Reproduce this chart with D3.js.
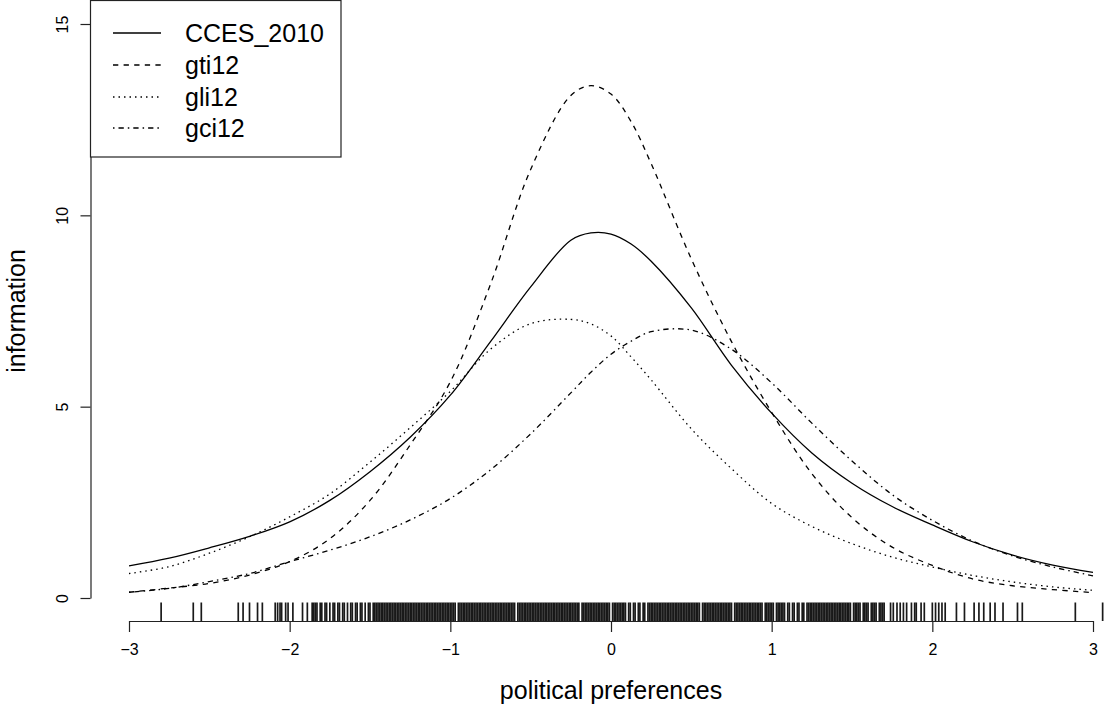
<!DOCTYPE html>
<meta charset="utf-8">
<style> /* set the CSS */

  body { margin: 0; background: white; }

  .curve {
    fill: none; stroke: #000; stroke-width: 1.3px;
  }

  .axisFormat line, .axisFormat path {
    stroke: #222; stroke-width: 1.2px;
  }

  .axisFormat text {
    font: 16px "Liberation Sans", Arial, sans-serif;
    fill: #000;
  }

  .rug {
    stroke: #000; stroke-width: 1.7px; stroke-opacity: 0.9;
  }

  .label {
    font: 25px "Liberation Sans", Arial, sans-serif;
    fill: #000;
  }

</style>
<body>

<!-- load the d3.js library -->
<script src="https://d3js.org/d3.v7.min.js"></script>
<script>

// theta grid the information curves were read at (finer round the peaks)
var theta = [-3, -2.75, -2.5, -2.25, -2, -1.75, -1.5, -1.25, -1, -0.75, -0.5, -0.25, -0.125,
             0, 0.125, 0.25, 0.5, 0.75, 1, 1.25, 1.5, 1.75, 2, 2.25, 2.5, 2.75, 3];

// information values for each scale
var cces2010 = [0.84, 1.04, 1.31, 1.61, 1.99, 2.55, 3.3, 4.2, 5.3, 6.7, 8.13, 9.35, 9.54,
                9.51, 9.25, 8.8, 7.58, 6.08, 4.83, 3.79, 3.0, 2.39, 1.91, 1.47, 1.12, 0.86, 0.67];
var gti12 = [0.15, 0.26, 0.38, 0.6, 0.95, 1.55, 2.55, 4.0, 5.65, 8.2, 11.2, 13.13, 13.39,
             13.17, 12.45, 11.35, 8.86, 6.7, 4.85, 3.25, 2.1, 1.33, 0.85, 0.5, 0.32, 0.22, 0.14];
var gli12 = [0.64, 0.82, 1.17, 1.6, 2.12, 2.72, 3.55, 4.45, 5.4, 6.5, 7.17, 7.28, 7.16,
             6.85, 6.3, 5.7, 4.42, 3.38, 2.47, 1.87, 1.42, 1.07, 0.81, 0.59, 0.42, 0.29, 0.2];
var gci12 = [0.15, 0.25, 0.43, 0.64, 0.95, 1.25, 1.6, 2.04, 2.6, 3.35, 4.29, 5.36, 5.9,
             6.37, 6.71, 6.96, 7.0, 6.5, 5.62, 4.57, 3.58, 2.7, 2.03, 1.49, 1.1, 0.81, 0.58];

var seriesNames = ["CCES_2010", "gti12", "gli12", "gci12"];
var seriesValues = [cces2010, gti12, gli12, gci12];
var seriesDash = [null, "5.3,5.3", "1.5,4", "1.5,4,5.3,4"];

var xTicks = [-3, -2, -1, 0, 1, 2, 3];
var yTicks = [0, 5, 10, 15];

// respondents' estimated positions (rug)
var rugValues = [
  -2.80, -2.60, -2.55, -2.32, -2.29, -2.25, -2.20, -2.17, -2.09, -2.075, -2.06, -2.05, -2.025, -2.01,
  -1.98, -1.92, -1.89, -1.86, -1.85, -1.84, -1.83, -1.81, -1.80, -1.78, -1.77, -1.75, -1.73, -1.72,
  -1.70, -1.69, -1.67, -1.66, -1.64, -1.62, -1.61, -1.59, -1.58, -1.56, -1.55, -1.53, -1.51, -1.50,
  -1.48, -1.47, -1.46, -1.45, -1.44, -1.43, -1.42, -1.41, -1.40,
  -1.39, -1.38, -1.37, -1.36, -1.35, -1.34, -1.33, -1.32, -1.31, -1.30, -1.29, -1.28, -1.27, -1.26,
  -1.25, -1.24, -1.23, -1.22, -1.21, -1.20, -1.19, -1.18, -1.17, -1.16, -1.15, -1.14, -1.13, -1.12,
  -1.11, -1.10, -1.09, -1.08, -1.07, -1.06, -1.05, -1.04, -1.03, -1.02, -1.01, -1.00, -0.99, -0.98,
  -0.97, -0.95, -0.94, -0.93, -0.92, -0.91, -0.90, -0.89, -0.88, -0.87, -0.86, -0.85, -0.84, -0.83,
  -0.82, -0.81, -0.80, -0.79, -0.78, -0.77, -0.76, -0.75, -0.74, -0.73, -0.72, -0.71, -0.70, -0.69,
  -0.68, -0.67, -0.66, -0.65, -0.64, -0.63, -0.62, -0.61, -0.60, -0.58, -0.57, -0.56, -0.55, -0.54,
  -0.53, -0.52, -0.51, -0.50, -0.49, -0.48, -0.47, -0.46, -0.45, -0.44, -0.43, -0.42, -0.41, -0.40,
  -0.39, -0.38, -0.37, -0.36, -0.35, -0.34, -0.33, -0.32, -0.31, -0.30, -0.29, -0.28, -0.27, -0.26,
  -0.25, -0.24, -0.23, -0.22, -0.21, -0.20, -0.18, -0.17, -0.16, -0.15, -0.14, -0.13, -0.12, -0.11,
  -0.10, -0.09, -0.08, -0.07, -0.06, -0.05, -0.04, -0.03, -0.02, -0.01,
  0.01, 0.02, 0.03, 0.04, 0.05, 0.06, 0.07, 0.08, 0.09, 0.11, 0.12, 0.14, 0.15, 0.17, 0.18, 0.20,
  0.21, 0.23, 0.24, 0.25, 0.26, 0.27, 0.28, 0.29, 0.30, 0.31, 0.32, 0.33, 0.34, 0.35, 0.36, 0.37,
  0.38, 0.39, 0.40, 0.41, 0.42, 0.43, 0.44, 0.45, 0.46, 0.47, 0.48, 0.49, 0.50, 0.51, 0.52, 0.53,
  0.54, 0.55, 0.57, 0.58, 0.59, 0.60, 0.61, 0.62, 0.63, 0.64, 0.65, 0.66, 0.67, 0.68, 0.69, 0.70,
  0.71, 0.72, 0.73, 0.74, 0.75, 0.77, 0.78, 0.79, 0.80, 0.81, 0.82, 0.83, 0.84, 0.85, 0.86, 0.87,
  0.88, 0.89, 0.90, 0.91, 0.92, 0.93, 0.94, 0.96, 0.97, 0.98, 0.99, 1.00, 1.01, 1.03, 1.04, 1.05,
  1.06, 1.07, 1.08, 1.10, 1.11, 1.13, 1.14, 1.16, 1.17, 1.19, 1.20, 1.22, 1.23, 1.24, 1.25, 1.26,
  1.27, 1.28, 1.29, 1.30, 1.31, 1.32, 1.33, 1.34, 1.35, 1.36, 1.37, 1.38, 1.39, 1.40, 1.41, 1.42,
  1.43, 1.44, 1.45, 1.46, 1.47, 1.48, 1.49, 1.51, 1.52, 1.53, 1.54, 1.55, 1.57, 1.58, 1.59, 1.60,
  1.62, 1.63, 1.64, 1.65, 1.67, 1.68, 1.69, 1.70,
  1.74, 1.757, 1.78, 1.80, 1.82, 1.84, 1.87, 1.89, 1.90, 1.93, 1.95, 2.00, 2.02, 2.04, 2.06, 2.08,
  2.15, 2.20, 2.26, 2.29, 2.32, 2.36, 2.39, 2.44, 2.53, 2.56, 2.89, 3.06
];

// set the dimensions of the drawing
var width = 1105, height = 709;
var plotLeft = 90.5, plotTop = 1, plotBottom = 621;

var svg = d3.select("body").append("svg")
    .attr("width", width)
    .attr("height", height);

// set the ranges
var x = d3.scaleLinear().domain([-3, 3]).range([129, 1093]);
var y = d3.scaleLinear().domain([0, 15]).range([598, 24]);

// define the line
var valueline = d3.line()
    .curve(d3.curveCatmullRom.alpha(0.5))
    .x(function(d) { return x(d[0]); })
    .y(function(d) { return y(d[1]); });

seriesValues.forEach(function(vals, i) {
  var pts = theta.map(function(t, j) { return [t, vals[j]]; });
  svg.append("path")
      .attr("class", "curve")
      .attr("d", valueline(pts))
      .style("stroke-dasharray", seriesDash[i]);
});

// rug along the bottom of the plot region
svg.append("g").selectAll("line")
    .data(rugValues)
    .enter().append("line")
    .attr("class", "rug")
    .attr("x1", function(d) { return x(d); })
    .attr("x2", function(d) { return x(d); })
    .attr("y1", plotBottom - 18.5)
    .attr("y2", plotBottom);

// x axis
svg.append("g")
    .attr("class", "axisFormat")
    .attr("transform", "translate(0," + plotBottom + ")")
    .call(d3.axisBottom(x).tickValues(xTicks).tickFormat(d3.format("d"))
      .tickSize(11).tickSizeOuter(0).tickPadding(23))
    .selectAll("text").attr("dy", 0);

// y axis, labels turned like R does
var yAxis = svg.append("g")
    .attr("class", "axisFormat")
    .attr("transform", "translate(" + plotLeft + ",0)")
    .call(d3.axisLeft(y).tickValues(yTicks).tickFormat(d3.format("d"))
      .tickSize(10).tickSizeOuter(0));

yAxis.selectAll("text")
    .attr("transform", "rotate(-90)")
    .attr("x", 0)
    .attr("y", -23)
    .attr("dy", 0)
    .attr("text-anchor", "middle");

// axis titles
svg.append("text")
    .attr("class", "label")
    .attr("x", x(0))
    .attr("y", 699)
    .attr("text-anchor", "middle")
    .text("political preferences");

svg.append("text")
    .attr("class", "label")
    .attr("transform", "translate(25," + ((plotTop + plotBottom) / 2) + ") rotate(-90)")
    .attr("text-anchor", "middle")
    .text("information");

// legend box in the top left corner
var legend = svg.append("g");

legend.append("rect")
    .attr("x", plotLeft)
    .attr("y", 0.5)
    .attr("width", 250.5)
    .attr("height", 156.5)
    .style("fill", "white")
    .style("stroke", "#222")
    .style("stroke-width", 1.2);

var rowY = [33, 65, 97, 128];

seriesNames.forEach(function(name, i) {
  legend.append("line")
      .attr("class", "curve")
      .attr("x1", 113).attr("x2", 161)
      .attr("y1", rowY[i]).attr("y2", rowY[i])
      .style("stroke-dasharray", seriesDash[i]);
  legend.append("text")
      .attr("class", "label")
      .attr("x", 185)
      .attr("y", rowY[i])
      .attr("dy", "0.36em")
      .text(name);
});

</script>
</body>
